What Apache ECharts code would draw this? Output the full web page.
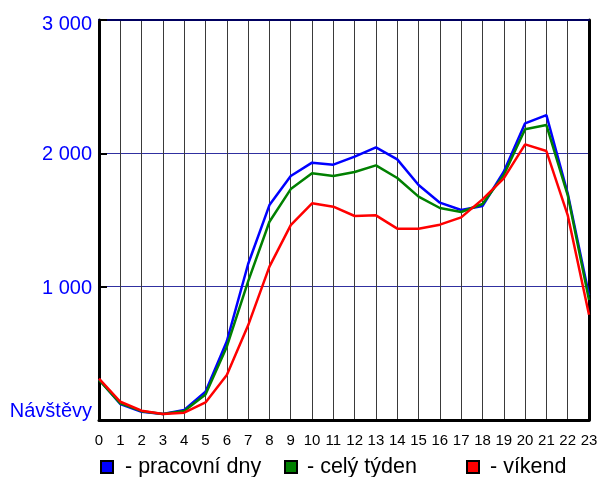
<!DOCTYPE html>
<html>
<head>
<meta charset="utf-8">
<script src="https://cdn.jsdelivr.net/npm/echarts@6/dist/echarts.min.js"></script>
<style>
  html, body { margin: 0; padding: 0; background: #fff; }
  #chart { width: 601px; height: 477px; }
</style>
</head>
<body>
<div id="chart"></div>
<script>
// Hourly visits: weekdays, whole week, weekend
const hours = [0, 1, 2, 3, 4, 5, 6, 7, 8, 9, 10, 11, 12, 13, 14, 15, 16, 17, 18, 19, 20, 21, 22, 23];
const pracovniDny = [305, 120, 62, 45, 75, 212, 590, 1170, 1612, 1830, 1930, 1915, 1975, 2045, 1955, 1762, 1630, 1575, 1605, 1862, 2225, 2287, 1700, 935];
const celyTyden   = [300, 125, 66, 45, 67, 192, 550, 1040, 1487, 1732, 1850, 1830, 1860, 1910, 1815, 1675, 1590, 1560, 1620, 1837, 2180, 2212, 1687, 900];
const vikend      = [310, 137, 70, 45, 55, 132, 337, 710, 1150, 1462, 1625, 1600, 1530, 1535, 1435, 1435, 1465, 1520, 1655, 1812, 2067, 2017, 1537, 790];
const yTicks = [0, 1000, 2000, 3000];
const yTitle = 'Návštěvy';
const names = ['- pracovní dny', '- celý týden', '- víkend'];
const colors = ['#0000ff', '#008000', '#ff0000'];

const pairs = arr => hours.map((h, i) => [h, arr[i]]);
const fmtThousands = v => String(v).replace(/\B(?=(\d{3})+(?!\d))/g, ' ');

const font = 'Liberation Sans, Arial, sans-serif';
const chart = echarts.init(document.getElementById('chart'), null, { renderer: 'canvas' });

function legendAt(name, left, gap) {
  return {
    data: [name],
    left: left,
    top: 456,
    padding: 0,
    icon: 'rect',
    itemWidth: 12,
    itemHeight: 12,
    itemGap: 0,
    selectedMode: false,
    itemStyle: { borderColor: '#000', borderWidth: 2 },
    textStyle: { fontFamily: font, fontSize: 21.5, color: '#000', padding: [0, 0, 0, gap] }
  };
}

chart.setOption({
  animation: false,
  backgroundColor: '#fff',
  grid: { left: 99, right: 12, top: 20, bottom: 57 },
  legend: [legendAt(names[0], 100, 7), legendAt(names[1], 284, 5), legendAt(names[2], 466, 6)],
  xAxis: [{
    type: 'value',
    min: 0, max: 23, interval: 1,
    axisLine: { show: true, onZero: false, lineStyle: { color: '#000', width: 3 } },
    axisTick: { show: false },
    splitLine: { show: true, lineStyle: { color: '#3a3a3a', width: 1 } },
    axisLabel: { margin: 13, fontFamily: font, fontSize: 15, color: '#000' }
  }, {
    type: 'value',
    position: 'top',
    min: 0, max: 23, interval: 1,
    axisLine: { show: true, onZero: false, lineStyle: { color: '#000060', width: 2 } },
    axisTick: { show: false },
    axisLabel: { show: false },
    splitLine: { show: false }
  }],
  yAxis: [{
    type: 'value',
    min: yTicks[0], max: yTicks[yTicks.length - 1], interval: 1000,
    axisLine: { show: true, onZero: false, lineStyle: { color: '#000', width: 3 } },
    axisTick: { show: true, inside: true, length: 8, lineStyle: { color: '#000', width: 2 } },
    splitLine: { show: true, lineStyle: { color: '#3030a0', width: 1 } },
    axisLabel: {
      margin: 7,
      fontFamily: font, fontSize: 20, color: '#0000ff',
      formatter: v => v === 0 ? '{t|' + yTitle + '}' : (v === 3000 ? '{top|' + fmtThousands(v) + '}' : '{n|' + fmtThousands(v) + '}'),
      rich: {
        t: { fontFamily: font, fontSize: 20, color: '#0000ff', padding: [0, 0, 18, 0] },
        top: { fontFamily: font, fontSize: 20, color: '#0000ff', padding: [8, 0, 0, 0] },
        n: { fontFamily: font, fontSize: 20, color: '#0000ff', padding: [3, 0, 0, 0] }
      }
    }
  }, {
    type: 'value',
    position: 'right',
    min: yTicks[0], max: yTicks[yTicks.length - 1], interval: 1000,
    axisLine: { show: true, onZero: false, lineStyle: { color: '#000', width: 3 } },
    axisTick: { show: false },
    axisLabel: { show: false },
    splitLine: { show: false }
  }],
  series: [pracovniDny, celyTyden, vikend].map((arr, i) => ({
    name: names[i],
    type: 'line',
    data: pairs(arr),
    showSymbol: false,
    symbol: 'none',
    color: colors[i],
    lineStyle: { color: colors[i], width: 2.5 },
    z: 3 + i
  }))
});
</script>
</body>
</html>
